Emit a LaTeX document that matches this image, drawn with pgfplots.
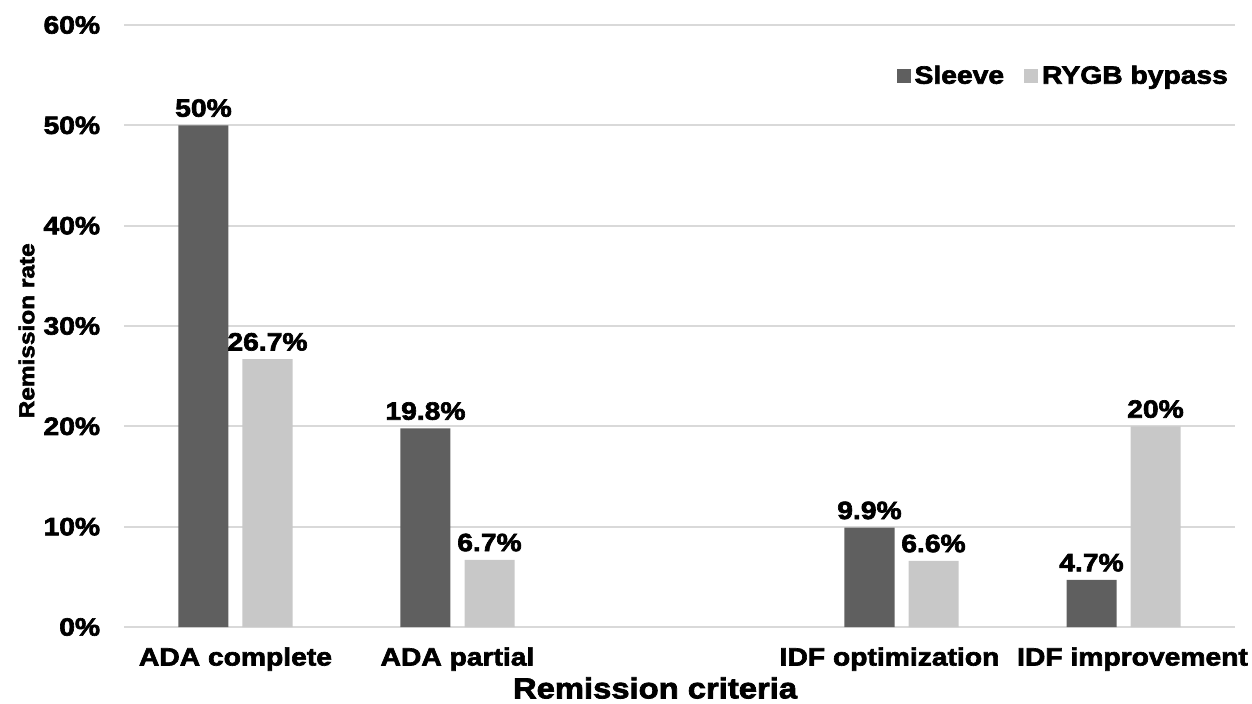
\documentclass[border=0pt]{standalone}
\usepackage{pgfplots}
\pgfplotsset{compat=1.18}
\usepackage{fontspec}
\setmainfont{Liberation Sans Bold}[FakeStretch=1.13, FakeBold=2.6]
\definecolor{sleeve}{HTML}{5F5F5F}
\definecolor{rygb}{HTML}{C8C8C8}
\definecolor{gridc}{HTML}{D9D9D9}
\begin{document}
\begin{tikzpicture}
\useasboundingbox (-62.25pt,-38pt) rectangle (563.75pt,313.5pt);
\begin{axis}[
  scale only axis,
  width=555pt, height=301pt,
  xmin=-0.5, xmax=4.5,
  ymin=0, ymax=60,
  ytick={0,10,20,30,40,50,60},
  yticklabel={\pgfmathprintnumber{\tick}\%},
  /pgf/number format/assume math mode=true,
  xtick={0,1,3,4},
  xticklabels={ADA complete, ADA partial, \hspace*{-12pt}IDF optimization, IDF improvement\hspace*{-9pt}},
  major tick length=0pt,
  axis line style={draw=none},
  ymajorgrids,
  grid style={gridc, line width=1pt},
  font=\fontsize{12.5pt}{14pt}\selectfont,
  ticklabel style={font=\fontsize{12.5pt}{14pt}\selectfont},
  yticklabel style={anchor=east, inner sep=0pt, xshift=-12pt},
  xticklabel style={anchor=north, inner sep=0pt, yshift=-10pt},
  xlabel={Remission criteria},
  xlabel style={at={(axis description cs:0.478,0)}, anchor=center, inner sep=0pt, yshift=-30.5pt, font=\fontsize{14.5pt}{16pt}\selectfont},
  ylabel={Remission rate},
  ylabel style={at={(axis description cs:-0.0883,0.492)}, anchor=center, font=\fontsize{10.8pt}{12pt}\selectfont},
  ybar,
  bar width=25pt,
  nodes near coords={\pgfmathprintnumber{\pgfplotspointmeta}\%},
  nodes near coords style={anchor=south, inner sep=0pt, yshift=4pt, font=\fontsize{12.5pt}{14pt}\selectfont, /pgf/number format/assume math mode=true},
  legend columns=2,
  legend style={draw=none, fill=none, at={(rel axis cs:0.998,0.915)}, anchor=east, inner sep=0pt,
    font=\fontsize{12.5pt}{14pt}\selectfont,
    /tikz/every even column/.append style={column sep=8pt}},
  legend image code/.code={\fill[#1] (0pt,-3.5pt) rectangle (7pt,3.5pt);},
]
\addplot[fill=sleeve, draw=none, bar shift=-16pt] coordinates {(0,50) (1,19.8) (3,9.9) (4,4.7)};
\addplot[fill=rygb, draw=none, bar shift=16pt] coordinates {(0,26.7) (1,6.7) (3,6.6) (4,20)};
\legend{Sleeve, RYGB bypass}
\end{axis}
\end{tikzpicture}
\end{document}
